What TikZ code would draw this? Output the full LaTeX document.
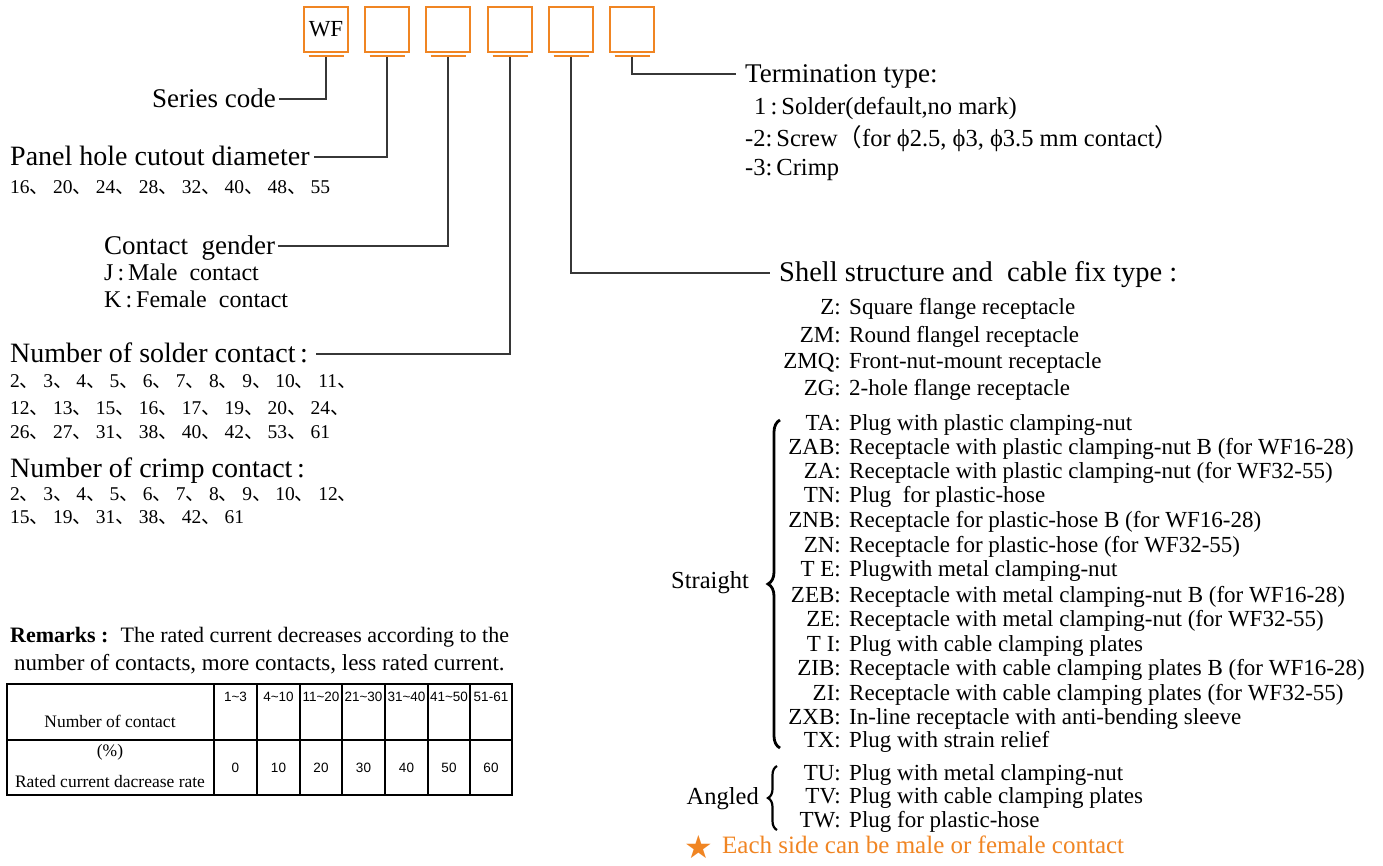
\documentclass[tikz,border=0pt]{standalone}
\usepackage{fontspec}
\setmainfont{Liberation Serif}
\setsansfont{Liberation Sans}
\newfontfamily\cjk{Noto Sans CJK SC}
\newfontfamily\symb{DejaVu Sans}
\usepackage{xcolor}
\usetikzlibrary{positioning,decorations.pathreplacing}
\definecolor{codeorange}{RGB}{240,133,35}
\definecolor{leadgray}{RGB}{55,55,55}
\newcommand{\dn}{{\cjk 、}\hspace{0.2em}}

\begin{document}
\begin{tikzpicture}[
    x=1pt, y=-1pt,
    codebox/.style={
        draw=codeorange,
        line width=1.4pt,
        minimum width=44pt,
        minimum height=45pt,
        inner sep=0pt,
        font=\fontsize{23}{25}\selectfont
    },
    ulbar/.style={draw=codeorange, line width=1.6pt},
    lead/.style={draw=leadgray, line width=1.4pt, shorten <=4.5pt},
    head/.style={
        inner sep=0pt,
        text height=21pt,
        text depth=4pt,
        font=\fontsize{28}{30}\selectfont
    },
    entry/.style={
        inner sep=0pt,
        text height=18pt,
        text depth=3pt,
        font=\fontsize{23}{25}\selectfont
    },
    num/.style={
        inner sep=0pt,
        text height=15pt,
        text depth=2pt,
        font=\fontsize{19.5}{21}\selectfont
    },
    cell/.style={inner sep=0pt, font=\sffamily\fontsize{13.5}{15}\selectfont},
    cellrm/.style={inner sep=0pt, font=\fontsize{17.5}{19}\selectfont},
    grid/.style={draw=black, line width=1.2pt}
]
\useasboundingbox (0,0) rectangle (1383,865);

% code boxes
\foreach \i/\x in {1/326,2/387,3/448,4/510,5/571,6/632}{
    \node[codebox] (b\i) at (\x,29.5) {};
    \draw[ulbar] ([xshift=-17.5pt,yshift=-3.5pt]b\i.south) -- ([xshift=17.5pt,yshift=-3.5pt]b\i.south);
}
\node[font=\fontsize{23}{25}\selectfont, inner sep=0pt] (wf) at (b1.center) {WF};

% left side
\node[head, anchor=west, font=\fontsize{27}{30}\selectfont] (series) at (152,99) {Series code};
\node[head, anchor=west] (panel) at (10,157) {Panel hole cutout diameter};
\node[num, anchor=west] (panelnum) at (10,187) {16\dn 20\dn 24\dn 28\dn 32\dn 40\dn 48\dn 55};

\node[head, anchor=west, font=\fontsize{27}{30}\selectfont] (gender) at (104,246) {Contact\ \ gender};
\node[entry, anchor=west, font=\fontsize{24}{26}\selectfont] (male) at (104,272.5) {J\,:\,Male\ \ contact};
\node[entry, anchor=west, font=\fontsize{24}{26}\selectfont] (female) at (104,299.5) {K\,:\,Female\ \ contact};

\node[head, anchor=west] (solder) at (10,354) {Number of solder contact\,:};
\node[num, anchor=west] (sold1) at (10,381) {2\dn 3\dn 4\dn 5\dn 6\dn 7\dn 8\dn 9\dn 10\dn 11{\cjk 、}};
\node[num, anchor=west] (sold2) at (10,408) {12\dn 13\dn 15\dn 16\dn 17\dn 19\dn 20\dn 24{\cjk 、}};
\node[num, anchor=west] (sold3) at (10,432) {26\dn 27\dn 31\dn 38\dn 40\dn 42\dn 53\dn 61};

\node[head, anchor=west] (crimp) at (10,469) {Number of crimp contact\,:};
\node[num, anchor=west] (crim1) at (10,494) {2\dn 3\dn 4\dn 5\dn 6\dn 7\dn 8\dn 9\dn 10\dn 12{\cjk 、}};
\node[num, anchor=west] (crim2) at (10,517) {15\dn 19\dn 31\dn 38\dn 42\dn 61};

\draw[lead, shorten >=3pt] (b1.south) |- (series.east);
\draw[lead, shorten >=4pt] (b2.south) |- (panel.east);
\draw[lead, shorten >=3pt] (b3.south) |- (gender.east);
\draw[lead, shorten >=8pt] (b4.south) |- (solder.east);

% remarks and table
\node[anchor=west, inner sep=0pt, font=\fontsize{22}{24}\selectfont] (remark1) at (10,637)
    {{\bfseries Remarks :}\hspace{12pt}The rated current decreases according to the};
\node[anchor=west, inner sep=0pt, font=\fontsize{23}{24}\selectfont] (remark2) at (14,664)
    {number of contacts, more contacts, less rated current.};

\draw[grid] (7,684) rectangle (512,795);
\draw[grid] (7,740) -- (512,740);
\foreach \x in {214,257,300,342,385,428,470}
    \draw[grid] (\x,684) -- (\x,795);

\node[cellrm] (hdr) at (110,721) {Number of contact};
\node[cellrm] (pct) at (110,752) {(\%)};
\node[cellrm] (rate) at (110,781) {Rated current dacrease rate};
\foreach \x/\r/\v [count=\k] in {235.5/1\textasciitilde 3/0, 278.5/4\textasciitilde 10/10, 321/11\textasciitilde 20/20,
    363.5/21\textasciitilde 30/30, 406.5/31\textasciitilde 40/40, 449/41\textasciitilde 50/50, 491/51-61/60}{
    \node[cell] (rng\k) at (\x,697) {\r};
    \node[cell] (val\k) at (\x,768) {\v};
}

% termination type
\node[head, anchor=west, font=\fontsize{27}{30}\selectfont] (term) at (745,74) {Termination type:};
\node[entry, anchor=west, font=\fontsize{24.5}{26}\selectfont] (t1) at (754,107) {1\,:\,Solder(default,no mark)};
\node[entry, anchor=west, font=\fontsize{24.5}{26}\selectfont] (t2) at (745,139) {-2:\,Screw{\cjk （}for ϕ2.5, ϕ3, ϕ3.5 mm contact{\cjk ）}};
\node[entry, anchor=west, font=\fontsize{24.5}{26}\selectfont] (t3) at (745,168) {-3:\,Crimp};
\draw[lead, shorten >=9pt] (b6.south) |- (term.west);

% shell structure
\node[head, anchor=west, font=\fontsize{28.5}{30}\selectfont] (shell) at (779,273) {Shell structure and\ \ cable fix type :};
\draw[lead, shorten >=9pt] (b5.south) |- (shell.west);

\foreach \y/\c/\d [count=\k] in {
    307/Z/Square flange receptacle,
    334.5/ZM/Round flangel receptacle,
    361/ZMQ/Front-nut-mount receptacle,
    388/ZG/2-hole flange receptacle,
    423/TA/Plug with plastic clamping-nut,
    447/ZAB/Receptacle with plastic clamping-nut B (for WF16-28),
    471/ZA/Receptacle with plastic clamping-nut (for WF32-55),
    495/TN/Plug\ \ for plastic-hose,
    520/ZNB/Receptacle for plastic-hose B (for WF16-28),
    545/ZN/Receptacle for plastic-hose (for WF32-55),
    569/T E/Plugwith metal clamping-nut,
    595/ZEB/Receptacle with metal clamping-nut B (for WF16-28),
    619/ZE/Receptacle with metal clamping-nut (for WF32-55),
    644/T I/Plug with cable clamping plates,
    668/ZIB/Receptacle with cable clamping plates B (for WF16-28),
    693/ZI/Receptacle with cable clamping plates (for WF32-55),
    717/ZXB/In-line receptacle with anti-bending sleeve,
    740/TX/Plug with strain relief,
    773/TU/Plug with metal clamping-nut,
    796/TV/Plug with cable clamping plates,
    820/TW/Plug for plastic-hose}{
    \node[entry, anchor=east] (c\k) at (841,\y) {\c:};
    \node[entry, anchor=west] (d\k) at (849,\y) {\d};
}

\node[entry, anchor=east, font=\fontsize{24.5}{26}\selectfont] (straight) at (749,581) {Straight};
\node[entry, anchor=east, font=\fontsize{24.5}{26}\selectfont] (angled) at (759,797) {Angled};
\draw[line width=2.8pt, decorate, decoration={brace, amplitude=12pt}] (780,748) -- (780,420);
\draw[line width=2.2pt, decorate, decoration={brace, amplitude=9pt}] (777,830) -- (777,766);

% note
\node[inner sep=0pt, text=codeorange, font=\symb\fontsize{32}{34}\selectfont] (star) at (699,847) {★};
\node[entry, anchor=west, text=codeorange, font=\fontsize{25}{27}\selectfont] (note) at (722,846)
    {Each side can be male or female contact};

\end{tikzpicture}
\end{document}
